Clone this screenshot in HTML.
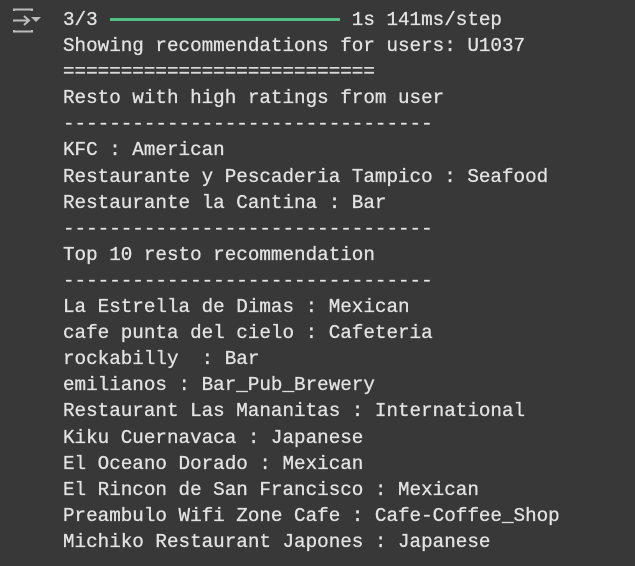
<!DOCTYPE html>
<html><head><style>
html,body{margin:0;padding:0;width:635px;height:566px;background:#383838;overflow:hidden}
pre{position:absolute;left:63px;top:7px;margin:0;font-family:"Liberation Mono",monospace;font-size:19.25px;line-height:26.1px;color:#e2e2e2;-webkit-text-stroke:0.3px #e2e2e2}
.bar{position:absolute;left:110px;top:18px;width:230px;height:3px;background:#4fbf85}
.icon{position:absolute;left:12px;top:8px}
</style></head><body>
<svg class="icon" width="34" height="26" viewBox="0 0 34 26">
<path d="M2 3 V1.5 H20 V3" fill="none" stroke="#bbb" stroke-width="2"/>
<path d="M2 22 V23.5 H20 V22" fill="none" stroke="#bbb" stroke-width="2"/>
<path d="M1 12.5 H17 M12 8 L17 12.5 L12 17" fill="none" stroke="#bbb" stroke-width="2"/>
<path d="M19 9 H29 L24 14 Z" fill="#bbb"/>
</svg>
<div class="bar"></div>
<pre>3/3                      1s 141ms/step
Showing recommendations for users: U1037
===========================
Resto with high ratings from user
--------------------------------
KFC : American
Restaurante y Pescaderia Tampico : Seafood
Restaurante la Cantina : Bar
--------------------------------
Top 10 resto recommendation
--------------------------------
La Estrella de Dimas : Mexican
cafe punta del cielo : Cafeteria
rockabilly  : Bar
emilianos : Bar_Pub_Brewery
Restaurant Las Mananitas : International
Kiku Cuernavaca : Japanese
El Oceano Dorado : Mexican
El Rincon de San Francisco : Mexican
Preambulo Wifi Zone Cafe : Cafe-Coffee_Shop
Michiko Restaurant Japones : Japanese</pre>
</body></html>
